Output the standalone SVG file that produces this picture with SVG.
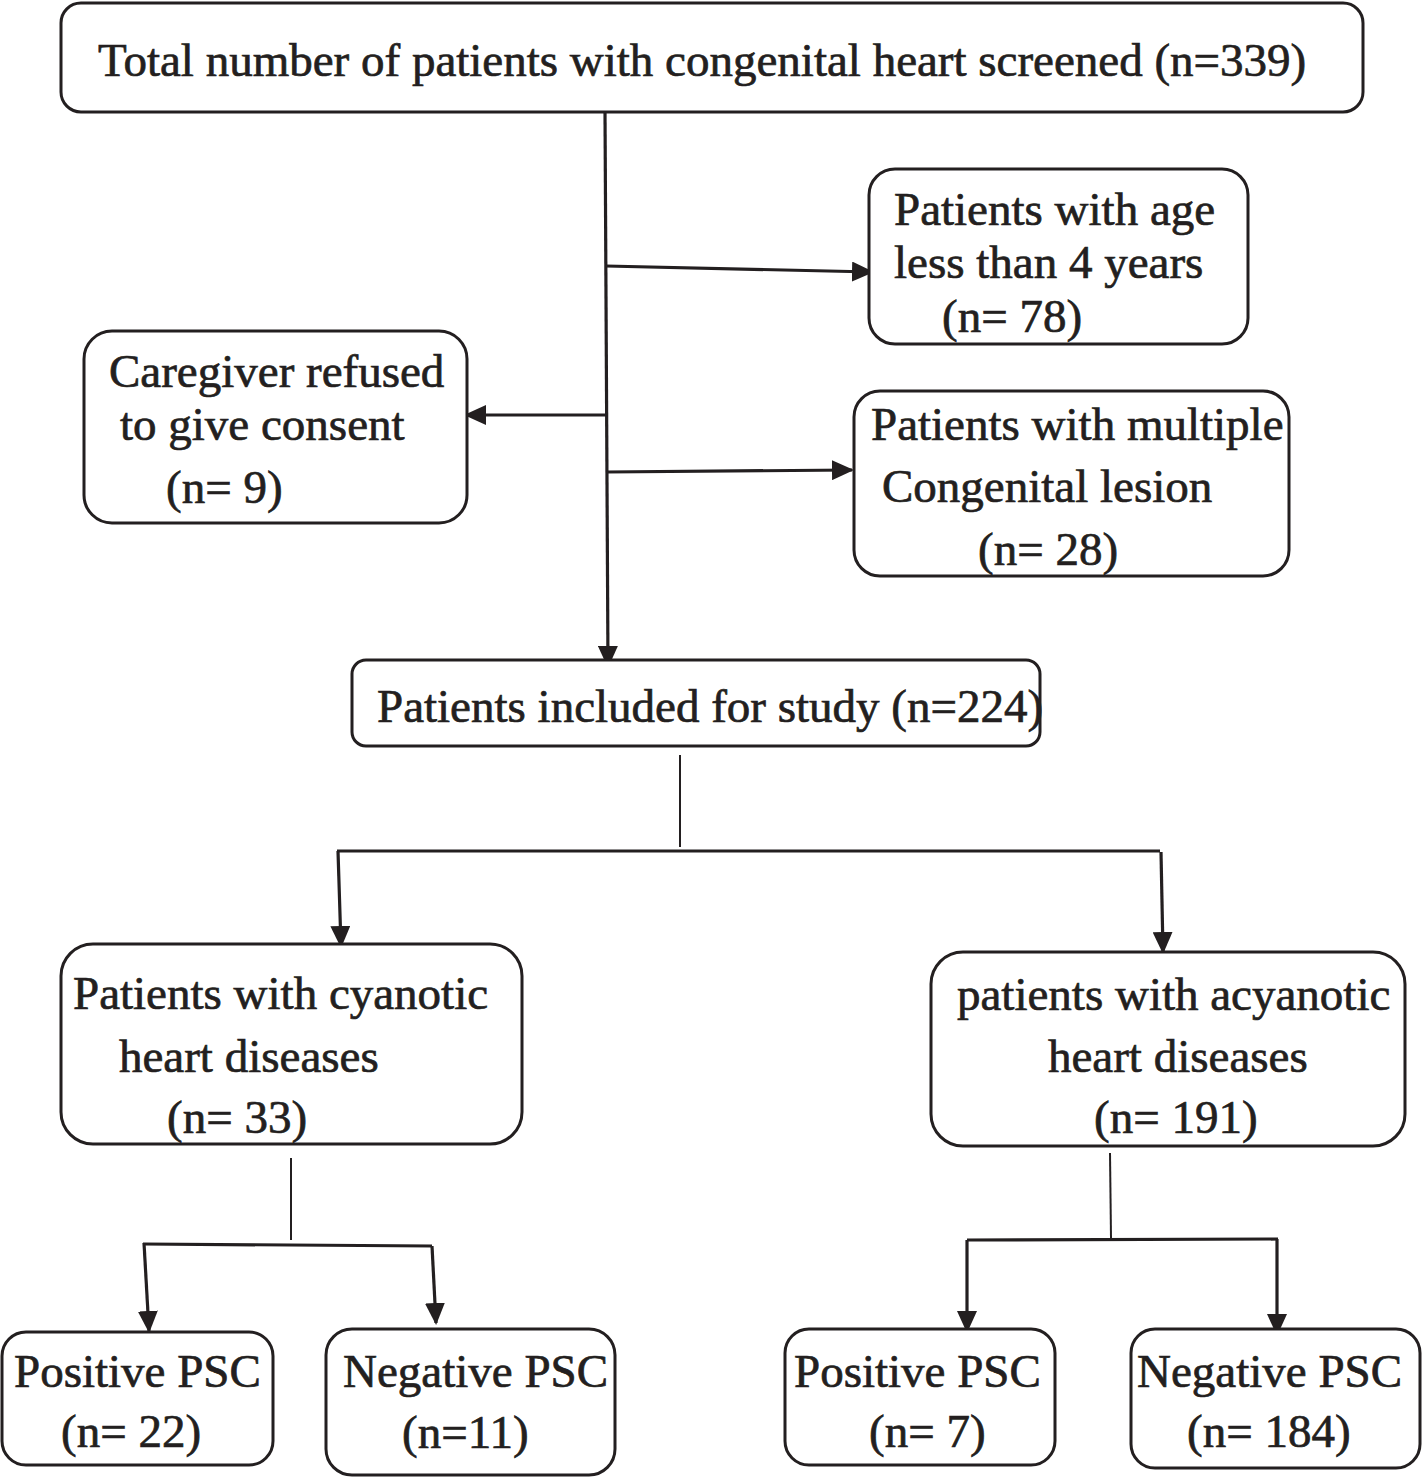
<svg xmlns="http://www.w3.org/2000/svg" width="1424" height="1477" viewBox="0 0 1424 1477">
<style>
.box{fill:#fff;stroke:#231f20;stroke-width:3}
.t{font-family:"Liberation Serif","Times New Roman",serif;font-size:47px;fill:#231f20;stroke:#231f20;stroke-width:0.7}
.c{fill:none;stroke:#231f20;stroke-width:3.2}
.thin{fill:none;stroke:#231f20;stroke-width:2}
</style>
<defs>
<marker id="ah" markerUnits="userSpaceOnUse" markerWidth="22" markerHeight="20" viewBox="0 0 22 20" refX="20" refY="10" orient="auto">
<path d="M0,0 L22,10 L0,20 z" fill="#231f20"/>
</marker>
</defs>
<rect width="1424" height="1477" fill="#fff"/>
<g id="connectors">
<path class="c" d="M605,112 L608,666" marker-end="url(#ah)"/>
<path class="c" d="M606,266 L872,272" marker-end="url(#ah)"/>
<path class="c" d="M606,415 L466,415" marker-end="url(#ah)"/>
<path class="c" d="M607,472 L852,470" marker-end="url(#ah)"/>
<path class="thin" d="M680,755 L680,847"/>
<path class="c" d="M337,851 L1160,851"/>
<path class="c" d="M338,851 L341,946" marker-end="url(#ah)"/>
<path class="c" d="M1161,852 L1163,952" marker-end="url(#ah)"/>
<path class="thin" d="M291,1158 L291,1240"/>
<path class="c" d="M143,1244 L432,1246"/>
<path class="c" d="M144,1243 L149,1331" marker-end="url(#ah)"/>
<path class="c" d="M432,1246 L436,1323" marker-end="url(#ah)"/>
<path class="thin" d="M1110,1153 L1111,1238"/>
<path class="c" d="M967,1240 L1278,1239"/>
<path class="c" d="M967,1240 L967,1331" marker-end="url(#ah)"/>
<path class="c" d="M1277,1239 L1277,1334" marker-end="url(#ah)"/>
</g>
<g id="n-total">
<rect class="box" x="61" y="3" width="1302" height="109" rx="20"/>
<text class="t" x="98" y="76">Total number of patients with congenital heart screened (n=339)</text>
</g>
<g id="n-age">
<rect class="box" x="869" y="169" width="379" height="175" rx="26"/>
<text class="t" x="894" y="225">Patients with age</text>
<text class="t" x="894" y="278">less than 4 years</text>
<text class="t" x="942" y="332">(n= 78)</text>
</g>
<g id="n-caregiver">
<rect class="box" x="84" y="331" width="383" height="192" rx="28"/>
<text class="t" x="109" y="387">Caregiver refused</text>
<text class="t" x="120" y="440">to give consent</text>
<text class="t" x="166" y="503">(n= 9)</text>
</g>
<g id="n-multiple">
<rect class="box" x="854" y="391" width="435" height="185" rx="26"/>
<text class="t" x="871" y="440">Patients with multiple</text>
<text class="t" x="882" y="502">Congenital lesion</text>
<text class="t" x="978" y="565">(n= 28)</text>
</g>
<g id="n-included">
<rect class="box" x="352" y="660" width="688" height="86" rx="14"/>
<text class="t" x="377" y="722">Patients included for study (n=224)</text>
</g>
<g id="n-cyanotic">
<rect class="box" x="61" y="944" width="461" height="200" rx="32"/>
<text class="t" x="73" y="1009">Patients with cyanotic</text>
<text class="t" x="119" y="1072">heart diseases</text>
<text class="t" x="167" y="1133">(n= 33)</text>
</g>
<g id="n-acyanotic">
<rect class="box" x="931" y="952" width="474" height="194" rx="32"/>
<text class="t" x="957" y="1010">patients with acyanotic</text>
<text class="t" x="1048" y="1072">heart diseases</text>
<text class="t" x="1094" y="1133">(n= 191)</text>
</g>
<g id="n-pos1">
<rect class="box" x="2" y="1332" width="271" height="133" rx="24"/>
<text class="t" x="14" y="1387">Positive PSC</text>
<text class="t" x="61" y="1447">(n= 22)</text>
</g>
<g id="n-neg1">
<rect class="box" x="326" y="1329" width="289" height="146" rx="26"/>
<text class="t" x="343" y="1387">Negative PSC</text>
<text class="t" x="402" y="1448">(n=11)</text>
</g>
<g id="n-pos2">
<rect class="box" x="785" y="1329" width="270" height="136" rx="24"/>
<text class="t" x="794" y="1387">Positive PSC</text>
<text class="t" x="869" y="1447">(n= 7)</text>
</g>
<g id="n-neg2">
<rect class="box" x="1131" y="1329" width="289" height="139" rx="24"/>
<text class="t" x="1137" y="1387">Negative PSC</text>
<text class="t" x="1187" y="1447">(n= 184)</text>
</g>
</svg>
